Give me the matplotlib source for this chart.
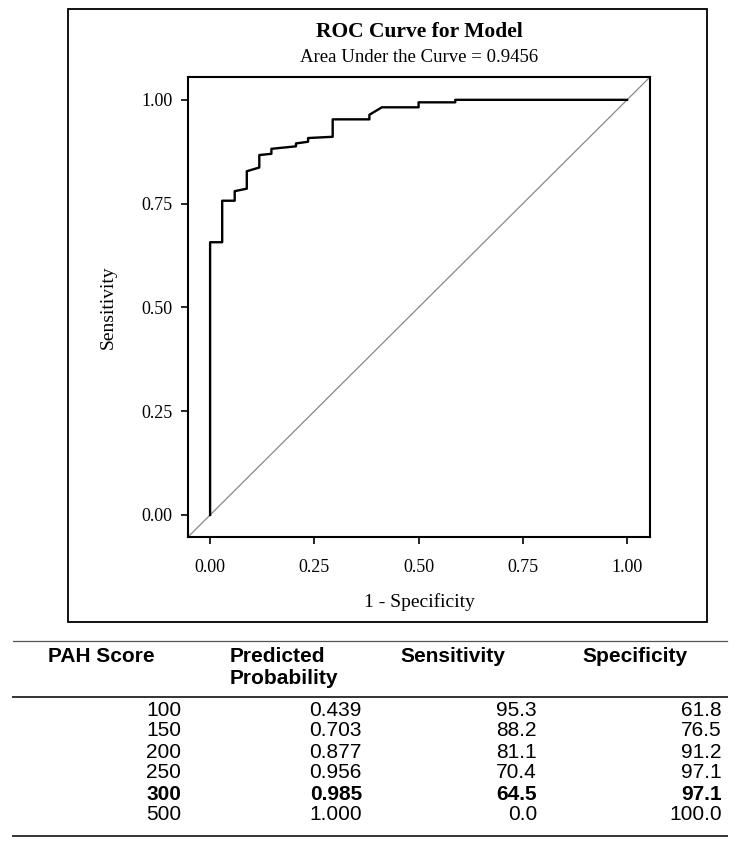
import matplotlib.pyplot as plt
from matplotlib.lines import Line2D
from matplotlib.patches import Rectangle

# ROC curve (1 - specificity, sensitivity)
fpr = [0.0, 0.0, 0.029, 0.029, 0.059, 0.059, 0.088, 0.088, 0.118, 0.118,
       0.147, 0.147, 0.206, 0.206, 0.235, 0.235, 0.294, 0.294, 0.382, 0.382,
       0.412, 0.5, 0.5, 0.588, 0.588, 1.0]
tpr = [0.0, 0.657, 0.657, 0.757, 0.757, 0.780, 0.786, 0.828, 0.837, 0.867,
       0.870, 0.882, 0.888, 0.895, 0.899, 0.908, 0.911, 0.953, 0.953, 0.964,
       0.982, 0.982, 0.994, 0.994, 1.0, 1.0]
ticks = [0.00, 0.25, 0.50, 0.75, 1.00]
auc = 0.9456

# table under the chart
headers = ['PAH Score', 'Predicted\nProbability', 'Sensitivity', 'Specificity']
pah_scores = ['100', '150', '200', '250', '300', '500']
pred_prob = ['0.439', '0.703', '0.877', '0.956', '0.985', '1.000']
sensitivity = ['95.3', '88.2', '81.1', '70.4', '64.5', '0.0']
specificity = ['61.8', '76.5', '91.2', '97.1', '97.1', '100.0']
bold_row = 4

W, H = 739, 850
serif = ['Liberation Serif', 'DejaVu Serif']
sans = ['Liberation Sans', 'DejaVu Sans']


def fx(px):
    return px / W


def fy(py):
    return 1 - py / H


fig = plt.figure(figsize=(W / 100, H / 100), dpi=100)

# outer frame around the chart
fig.add_artist(Rectangle((fx(68), fy(622)), fx(707) - fx(68), fy(9) - fy(622),
                         transform=fig.transFigure, fill=False, lw=1.3, ec='black'))

ax = fig.add_axes([fx(188), fy(537), fx(650) - fx(188), fy(77) - fy(537)])
lim = (-0.053, 1.055)
ax.plot(lim, lim, color='#888888', lw=0.9)
ax.plot(fpr, tpr, color='black', lw=1.7)
ax.set_xlim(lim)
ax.set_ylim(lim)
ax.set_xticks(ticks)
ax.set_yticks(ticks)
ax.set_xticklabels(['%.2f' % t for t in ticks], family=serif, fontsize=13)
ax.set_yticklabels(['%.2f' % t for t in ticks], family=serif, fontsize=13)
ax.tick_params(direction='out', length=5, width=1.2, pad=6)
ax.tick_params(axis='x', pad=11)
for s in ax.spines.values():
    s.set_linewidth(1.5)
ax.set_xlabel('1 - Specificity', family=serif, fontsize=14, labelpad=12)
ax.set_ylabel('Sensitivity', family=serif, fontsize=14, labelpad=18)

fig.text(fx(419), fy(32), 'ROC Curve for Model', family=serif, fontsize=15.5,
         fontweight='bold', ha='center', va='center')
fig.text(fx(419), fy(57), 'Area Under the Curve = %.4f' % auc, family=serif,
         fontsize=13.5, ha='center', va='center')

# table
lines_y = [(641, 0.9, '#555555'), (697, 1.4, '#333333'), (836, 1.4, '#333333')]
for y, lw, c in lines_y:
    fig.add_artist(Line2D([fx(13), fx(727)], [fy(y), fy(y)], lw=lw, color=c,
                          transform=fig.transFigure))

head_x = [48, 230, 400, 582]
for x, h in zip(head_x, headers):
    fig.text(fx(x), fy(647), h, family=sans, fontsize=15, fontweight='bold',
             ha='left', va='top', linespacing=1.2)

cols = [pah_scores, pred_prob, sensitivity, specificity]
right_x = [181, 362, 537, 722]
for i in range(len(pah_scores)):
    y = 710 + i * 21
    for x, col in zip(right_x, cols):
        fig.text(fx(x), fy(y), col[i], family=sans, fontsize=15,
                 fontweight='bold' if i == bold_row else 'normal',
                 ha='right', va='center')

fig.savefig('out.png', dpi=100)
